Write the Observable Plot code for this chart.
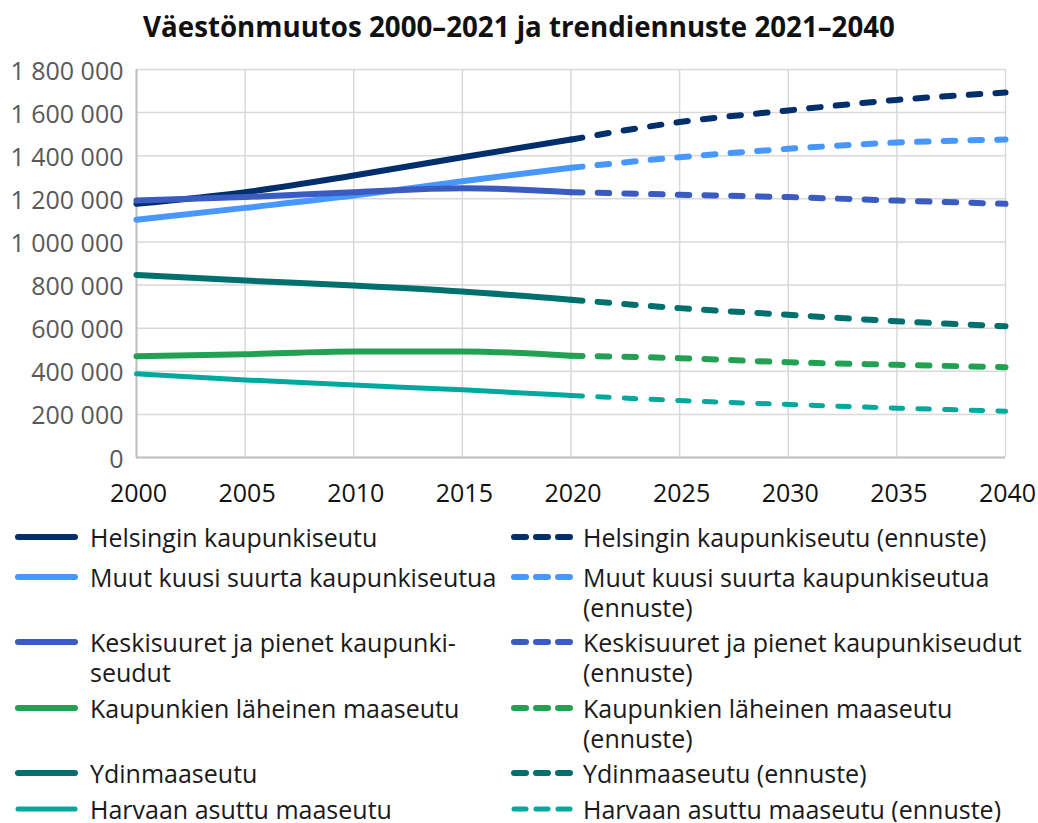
<!DOCTYPE html>
<html>
<head>
<meta charset="utf-8">
<script src="https://cdn.jsdelivr.net/npm/d3@7"></script>
<script src="https://cdn.jsdelivr.net/npm/@observablehq/plot@0.6"></script>
<style>
  html, body { margin: 0; padding: 0; background: #fff; }
  body { width: 1038px; font-family: "Open Sans", sans-serif; }
  #title { height: 50px; line-height: 52px; text-align: center; font-weight: 700; font-size: 27.7px; color: #111; }
  #chart svg { display: block; }
  #legend { display: grid; grid-template-columns: 496px 540px; grid-template-rows: 40px 65px 66px 65px 36px 28px; margin-left: 15px; margin-top: 2px; font-size: 25px; color: #1a1a1a; }
  .item { display: flex; align-items: flex-start; white-space: nowrap; line-height: 30px; }
  .item svg { flex: none; margin-right: 9px; }
  .item.r svg { margin-right: 8px; }
</style>
</head>
<body>
<div id="title">Väestönmuutos 2000–2021 ja trendiennuste 2021–2040</div>
<div id="chart"></div>
<div id="legend"></div>
<script>
// ---- data ----
const series = [
  "Helsingin kaupunkiseutu",
  "Muut kuusi suurta kaupunkiseutua",
  "Keskisuuret ja pienet kaupunkiseudut",
  "Kaupunkien läheinen maaseutu",
  "Ydinmaaseutu",
  "Harvaan asuttu maaseutu"
];
const legendLabels = [
  "Helsingin kaupunkiseutu",
  "Muut kuusi suurta kaupunkiseutua",
  "Keskisuuret ja pienet kaupunki-<br>seudut",
  "Kaupunkien läheinen maaseutu",
  "Ydinmaaseutu",
  "Harvaan asuttu maaseutu"
];
const forecastLabels = [
  "Helsingin kaupunkiseutu (ennuste)",
  "Muut kuusi suurta kaupunkiseutua<br>(ennuste)",
  "Keskisuuret ja pienet kaupunkiseudut<br>(ennuste)",
  "Kaupunkien läheinen maaseutu<br>(ennuste)",
  "Ydinmaaseutu (ennuste)",
  "Harvaan asuttu maaseutu (ennuste)"
];
const colors = ["#002F6C", "#4797FF", "#3A5BBF", "#23A152", "#00706E", "#00A89D"];
const widths = [6, 6, 6, 6, 6, 5];

const histYears = [2000, 2005, 2010, 2015, 2020];
const foreYears = [2020, 2025, 2030, 2035, 2040];

const histHelsinki = [1177000, 1231000, 1308000, 1393000, 1475000];
const histMuut     = [1103000, 1158000, 1215000, 1282000, 1344000];
const histKeski    = [1192000, 1208000, 1231000, 1249000, 1231000];
const histLaheinen = [470000, 479000, 492000, 492000, 472000];
const histYdin     = [847000, 821000, 798000, 770000, 732000];
const histHarvaan  = [388000, 360000, 336000, 314000, 288000];

const foreHelsinki = [1475000, 1556000, 1610000, 1659000, 1693000];
const foreMuut     = [1344000, 1393000, 1432000, 1461000, 1475000];
const foreKeski    = [1231000, 1219000, 1208000, 1192000, 1177000];
const foreLaheinen = [472000, 461000, 442000, 430000, 419000];
const foreYdin     = [732000, 693000, 662000, 632000, 609000];
const foreHarvaan  = [288000, 264000, 246000, 229000, 215000];

const yTicks = [0, 200000, 400000, 600000, 800000, 1000000, 1200000, 1400000, 1600000, 1800000];
const xTicks = [2000, 2005, 2010, 2015, 2020, 2025, 2030, 2035, 2040];

// ---- build tables ----
const hist = [histHelsinki, histMuut, histKeski, histLaheinen, histYdin, histHarvaan];
const fore = [foreHelsinki, foreMuut, foreKeski, foreLaheinen, foreYdin, foreHarvaan];
const histData = [], foreData = [];
series.forEach((s, i) => {
  histYears.forEach((y, j) => histData.push({series: s, i, year: y, value: hist[i][j]}));
  foreYears.forEach((y, j) => foreData.push({series: s, i, year: y, value: fore[i][j]}));
});

const fmt = d => d3.format(",")(d).replace(/,/g, " ");

const lineMarks = [];
series.forEach((s, i) => {
  lineMarks.push(Plot.line(histData.filter(d => d.i === i), {
    x: "year", y: "value", stroke: colors[i], strokeWidth: widths[i],
    curve: "monotone-x", strokeLinecap: "round", strokeLinejoin: "round"
  }));
  lineMarks.push(Plot.line(foreData.filter(d => d.i === i), {
    x: "year", y: "value", stroke: colors[i], strokeWidth: widths[i],
    curve: "monotone-x", strokeLinecap: "round", strokeLinejoin: "round",
    strokeDasharray: "11.5,15.2"
  }));
});

const chart = Plot.plot({
  width: 1038,
  height: 470,
  marginLeft: 136,
  marginRight: 33,
  marginTop: 19,
  marginBottom: 63,
  style: {fontFamily: "Open Sans, sans-serif", background: "#fff"},
  x: {domain: [2000, 2040]},
  y: {domain: [0, 1800000]},
  marks: [
    Plot.gridY(yTicks, {stroke: "#d9d9d9", strokeWidth: 1.5, strokeOpacity: 1}),
    Plot.gridX(xTicks, {stroke: "#d9d9d9", strokeWidth: 1.5, strokeOpacity: 1}),
    Plot.ruleX([2000], {stroke: "#bfbfbf", strokeWidth: 2}),
    Plot.ruleY([0], {stroke: "#bfbfbf", strokeWidth: 2}),
    Plot.axisY(yTicks, {tickFormat: fmt, tickSize: 0, tickPadding: 13, fontSize: 25, fill: "#595959", label: null, dy: 2}),
    Plot.axisX(xTicks, {tickFormat: d => String(d), tickSize: 0, tickPadding: 27, fontSize: 25, fill: "#111", label: null, dx: 2}),
    ...lineMarks
  ]
});
document.getElementById("chart").appendChild(chart);

// ---- legend ----
const legend = document.getElementById("legend");
function sample(color, w, dashed) {
  const ns = "http://www.w3.org/2000/svg";
  const svg = document.createElementNS(ns, "svg");
  svg.setAttribute("width", dashed ? 64 : 66);
  svg.setAttribute("height", 30);
  const l = document.createElementNS(ns, "line");
  l.setAttribute("x1", 3); l.setAttribute("x2", dashed ? 59 : 60);
  l.setAttribute("y1", 15); l.setAttribute("y2", 15);
  l.setAttribute("stroke", color); l.setAttribute("stroke-width", w);
  l.setAttribute("stroke-linecap", "round");
  if (dashed) l.setAttribute("stroke-dasharray", "12,10");
  svg.appendChild(l);
  return svg;
}
series.forEach((s, i) => {
  const a = document.createElement("div");
  a.className = "item";
  a.style.gridRow = i + 1; a.style.gridColumn = 1;
  a.appendChild(sample(colors[i], widths[i], false));
  const ta = document.createElement("span"); ta.innerHTML = legendLabels[i]; a.appendChild(ta);
  legend.appendChild(a);
  const b = document.createElement("div");
  b.className = "item r";
  b.style.gridRow = i + 1; b.style.gridColumn = 2;
  b.appendChild(sample(colors[i], widths[i], true));
  const tb = document.createElement("span"); tb.innerHTML = forecastLabels[i]; b.appendChild(tb);
  legend.appendChild(b);
});
</script>
</body>
</html>
